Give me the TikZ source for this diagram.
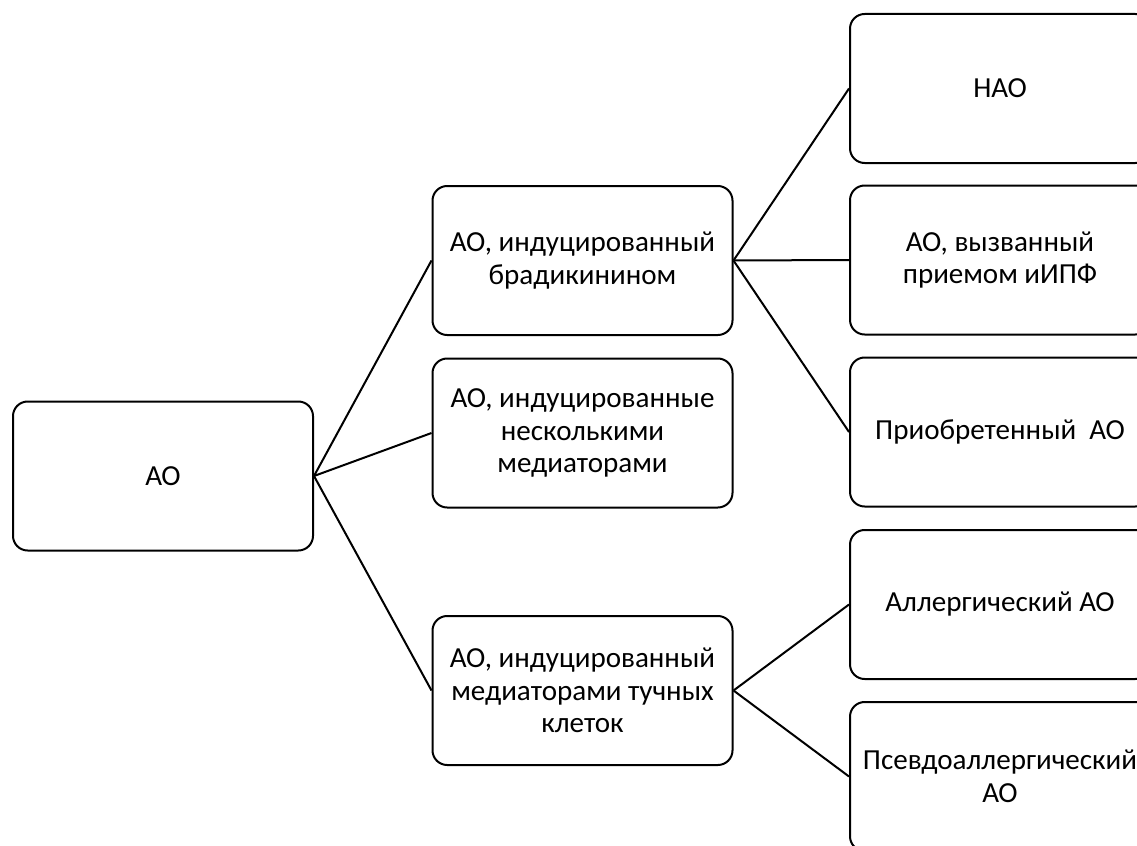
\documentclass[tikz,border=0pt]{standalone}
\usepackage{fontspec}
\setmainfont{Carlito}
\begin{document}
\begin{tikzpicture}[x=0.75pt,y=-0.75pt,
	box/.style={draw,line width=1.5pt,rounded corners=11pt,minimum width=225pt,minimum height=111.75pt,align=center,font=\fontsize{21.8}{24.5}\selectfont},
	link/.style={line width=1.5pt}]
	\clip (0,0) rectangle (1137,845);
	\node[box] (ao) at (163,476) {АО};
	\node[box] (brad) at (582.5,260.5) {АО, индуцированный\\брадикинином};
	\node[box] (neskol) at (582.5,433) {АО, индуцированные\\несколькими\\медиаторами};
	\node[box] (tuchn) at (582.5,690.5) {АО, индуцированный\\медиаторами тучных\\клеток};
	\node[box] (nao) at (1000,88.5) {НАО};
	\node[box] (iipf) at (1000,260) {АО, вызванный\\приемом иИПФ};
	\node[box] (priobr) at (1000,432) {Приобретенный\ \ АО};
	\node[box] (allerg) at (1000,604.5) {Аллергический АО};
	\node[box] (psevdo) at (1000,776.5) {Псевдоаллергический\\АО};
	\draw[link](ao.east)--(brad.west);
	\draw[link](ao.east)--(neskol.west);
	\draw[link](ao.east)--(tuchn.west);
	\draw[link](brad.east)--(nao.west);
	\draw[link](brad.east)--(iipf.west);
	\draw[link](brad.east)--(priobr.west);
	\draw[link](tuchn.east)--(allerg.west);
	\draw[link](tuchn.east)--(psevdo.west);
\end{tikzpicture}
\end{document}
